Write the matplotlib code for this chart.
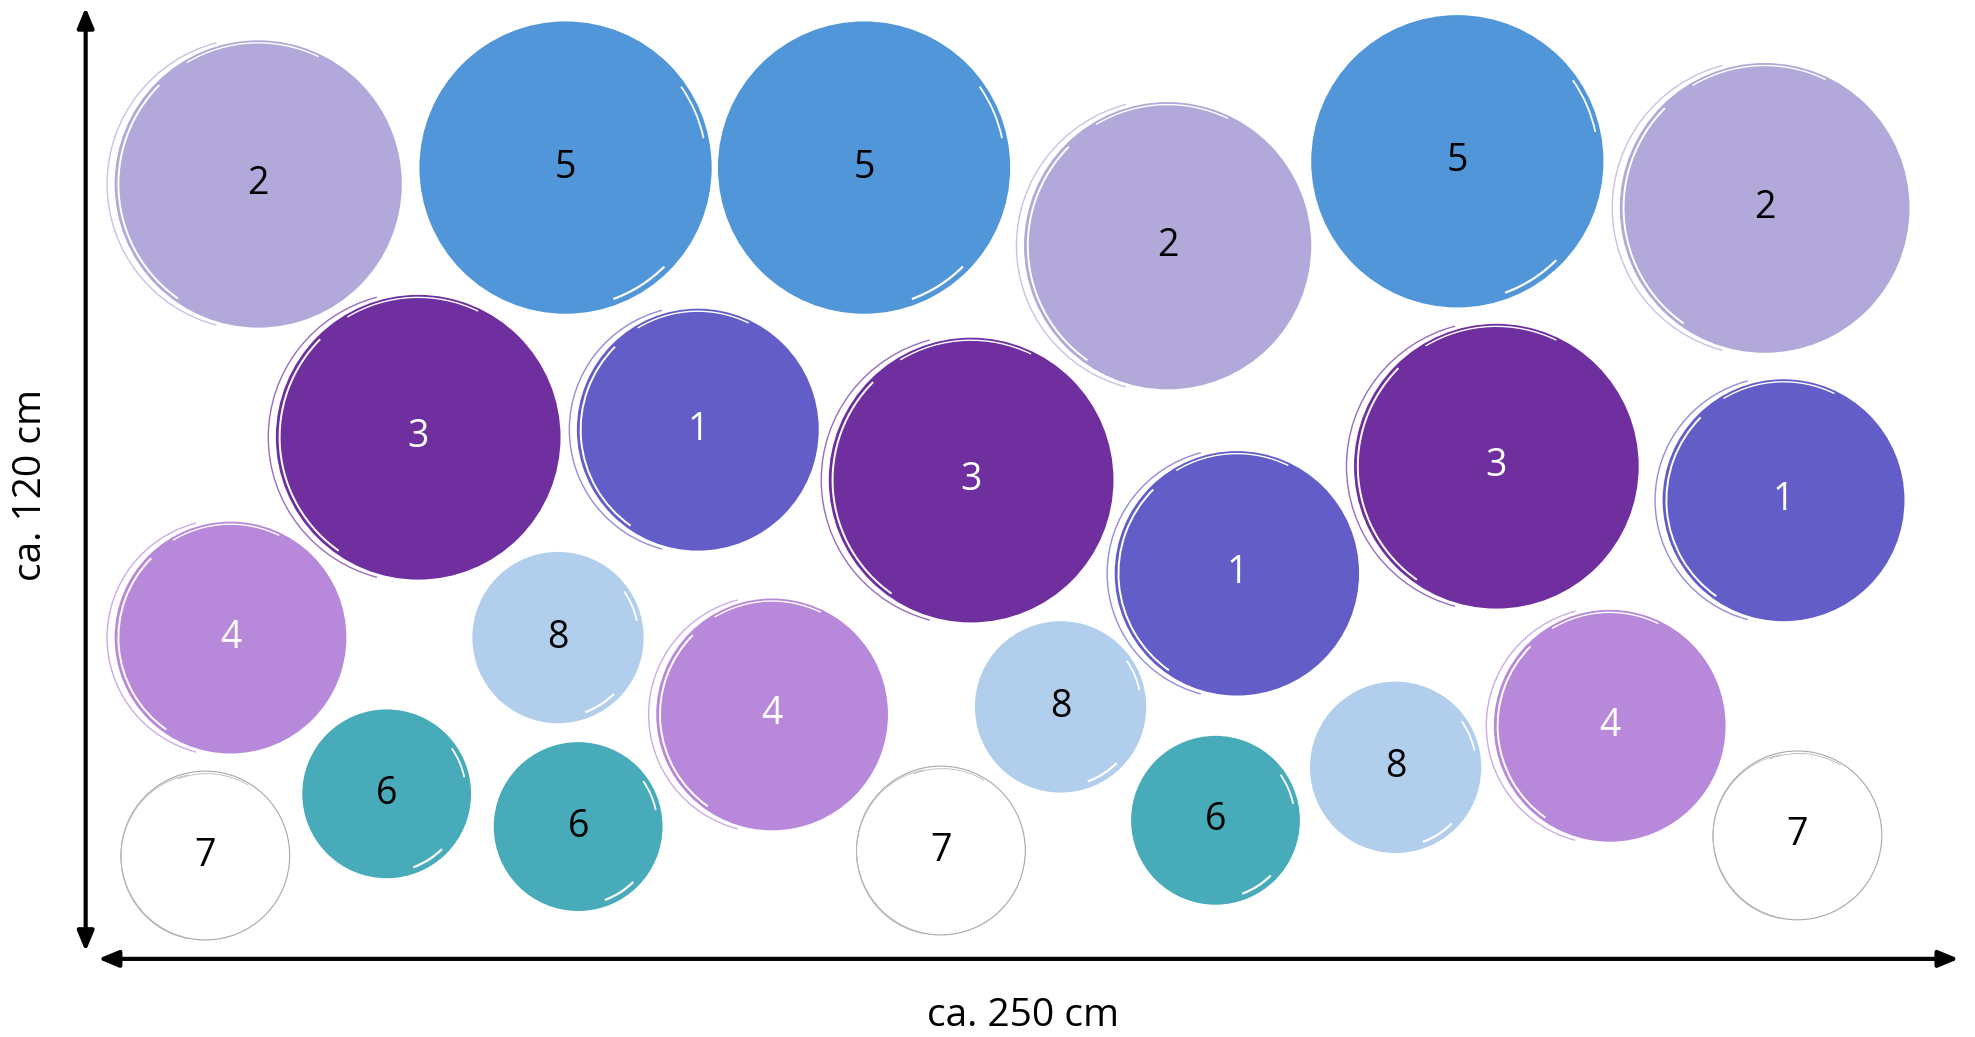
import matplotlib
matplotlib.use("Agg")
import matplotlib.pyplot as plt
from matplotlib.patches import Circle, Arc

## layout in px of a 1568 x 823 canvas
labels = [2, 5, 5, 2, 5, 2,
          3, 1, 3, 1, 3, 1,
          4, 8, 4, 8, 8, 4,
          7, 6, 6, 7, 6, 7]
cx = [205, 449, 686, 927, 1157, 1401,
      332, 554, 771, 982, 1188, 1416,
      183, 443, 613, 842, 1108, 1278,
      163, 307, 459, 747, 965, 1427]
cy = [146, 133, 133, 195, 128, 165,
      347, 341, 381, 455, 370, 397,
      506, 506, 567, 561, 609, 576,
      679, 630, 656, 675, 651, 663]
rad = [114, 116, 116, 114, 116, 115,
       113, 96, 113, 97, 113, 96,
       92, 68, 92, 68, 68, 92,
       67, 67, 67, 67, 67, 67]

colors = {1: "#635dc8", 2: "#b3a8da", 3: "#6f2f9f", 4: "#b889da",
          5: "#5096d8", 6: "#48abba", 7: "white", 8: "#b1cfec"}
text_col = {1: "white", 2: "black", 3: "white", 4: "white",
            5: "black", 6: "black", 7: "black", 8: "black"}
# brush stroke on the left for these, on the right for the rest
left_brush = {1, 2, 3, 4}

plt.rcParams['font.family'] = ['Open Sans', 'DejaVu Sans']

fig = plt.figure(figsize=(19.75, 10.37), dpi=100)
ax = fig.add_axes([0, 0, 1, 1])
ax.set_xlim(0, 1568)
ax.set_ylim(823, 0)
ax.axis("off")

for lab, x, y, r in zip(labels, cx, cy, rad):
    c = colors[lab]
    if lab == 7:
        ax.add_patch(Circle((x, y), r, facecolor="white", edgecolor="#a8a8a8", lw=0.8))
        ax.add_patch(Arc((x - 2, y + 1), 2 * r - 4, 2 * r - 2, theta1=100, theta2=260,
                         color="#b8b8b8", lw=0.6))
        ax.add_patch(Arc((x + 1, y + 2), 2 * r - 2, 2 * r, theta1=250, theta2=300,
                         color="#b8b8b8", lw=0.6))
    else:
        ax.add_patch(Circle((x, y), r, facecolor=c, edgecolor="none"))
        if lab in left_brush:
            # faint outer stroke with a white gap, like a brush edge
            ax.add_patch(Arc((x - 3, y), 2 * r + 6, 2 * r + 4, theta1=105, theta2=255,
                             color=c, lw=1.0, alpha=0.7))
            ax.add_patch(Arc((x, y), 2 * r - 6, 2 * r - 6, theta1=125, theta2=225,
                             color="white", lw=1.4))
            ax.add_patch(Arc((x, y + 2), 2 * r - 4, 2 * r, theta1=240, theta2=295,
                             color="white", lw=1.0))
        else:
            ax.add_patch(Arc((x, y), 2 * r - 10, 2 * r - 10, theta1=45, theta2=70,
                             color="white", lw=1.6))
            ax.add_patch(Arc((x, y), 2 * r - 8, 2 * r - 8, theta1=-35, theta2=-12,
                             color="white", lw=1.3))
    ax.text(x, y, str(lab), ha="center", va="center", fontsize=27,
            color=text_col[lab])

# dimension arrows
ax.annotate("", xy=(68, 6), xytext=(68, 755),
            arrowprops=dict(arrowstyle="<|-|>,head_length=1.2,head_width=0.5",
                            color="black", lw=3, shrinkA=0, shrinkB=0))
ax.annotate("", xy=(78, 761), xytext=(1555, 761),
            arrowprops=dict(arrowstyle="<|-|>,head_length=1.2,head_width=0.5",
                            color="black", lw=3, shrinkA=0, shrinkB=0))
ax.text(25, 385, "ca. 120 cm", rotation=90, ha="center", va="center", fontsize=28)
ax.text(812, 806, "ca. 250 cm", ha="center", va="center", fontsize=28)

fig.savefig("out.png", dpi=100)
